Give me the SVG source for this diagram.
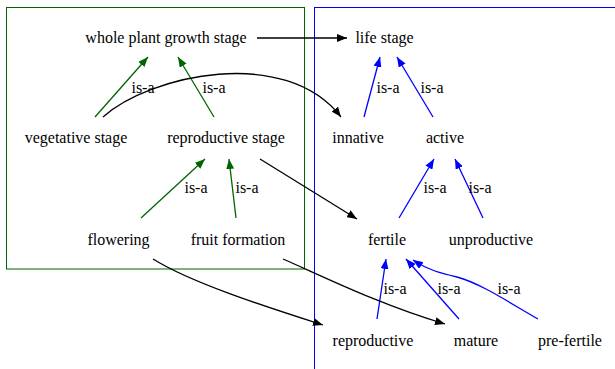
<svg xmlns="http://www.w3.org/2000/svg" width="615" height="369" viewBox="0 0 615 369">
<defs>
<style>
text{font-family:'Liberation Serif','Times New Roman',Times,serif;font-size:16px;fill:#000;text-anchor:middle}
.g{stroke:#006400;fill:none;stroke-width:1.3}
.b{stroke:#0000ff;fill:none;stroke-width:1.3}
.k{stroke:#000;fill:none;stroke-width:1.3}
</style>
<marker id="ag" markerWidth="10" markerHeight="8" refX="10" refY="4" orient="auto" markerUnits="userSpaceOnUse"><path d="M0,0 L10,4 L0,8 z" fill="#006400"/></marker>
<marker id="ab" markerWidth="10" markerHeight="8" refX="10" refY="4" orient="auto" markerUnits="userSpaceOnUse"><path d="M0,0 L10,4 L0,8 z" fill="#0000ff"/></marker>
<marker id="ak" markerWidth="10" markerHeight="8" refX="10" refY="4" orient="auto" markerUnits="userSpaceOnUse"><path d="M0,0 L10,4 L0,8 z" fill="#000"/></marker>
</defs>
<rect width="615" height="369" fill="#fff"/>
<g id="cluster-plant"><rect x="6.5" y="7.5" width="298" height="261.5" fill="none" stroke="#006400" stroke-width="1"/></g>
<g id="cluster-life"><rect x="314.5" y="7.5" width="320" height="380" fill="none" stroke="#0000ff" stroke-width="1"/></g>
<g id="connectors">
<path class="g" d="M95,117 L148,57" marker-end="url(#ag)"/>
<path class="g" d="M214,117 L178,57" marker-end="url(#ag)"/>
<path class="g" d="M141,218 L205,159" marker-end="url(#ag)"/>
<path class="g" d="M236,218 L229,159" marker-end="url(#ag)"/>
<path class="b" d="M364,117 L380,57" marker-end="url(#ab)"/>
<path class="b" d="M433,117 L397,57" marker-end="url(#ab)"/>
<path class="b" d="M399,218 L434,159" marker-end="url(#ab)"/>
<path class="b" d="M483,218 L455,159" marker-end="url(#ab)"/>
<path class="b" d="M377,319 L386,259" marker-end="url(#ab)"/>
<path class="b" d="M459,319 L406,259" marker-end="url(#ab)"/>
<path class="b" d="M538,319 C510,303 480,283 457,277 C440,273 428,270 413,260" marker-end="url(#ab)"/>
<path class="k" d="M257,38 L347,38" marker-end="url(#ak)"/>
<path class="k" d="M103,117 C150,75 285,45 341,117" marker-end="url(#ak)"/>
<path class="k" d="M260,159 L357,219" marker-end="url(#ak)"/>
<path class="k" d="M153,259 C190,282 260,305 323,325" marker-end="url(#ak)"/>
<path class="k" d="M283,259 C320,275 380,305 445,324" marker-end="url(#ak)"/>
</g>
<g id="labels">
<text x="143" y="93">is-a</text>
<text x="214" y="93">is-a</text>
<text x="388" y="93">is-a</text>
<text x="432" y="93">is-a</text>
<text x="196" y="193">is-a</text>
<text x="247" y="193">is-a</text>
<text x="435" y="193">is-a</text>
<text x="480" y="193">is-a</text>
<text x="395" y="294">is-a</text>
<text x="449" y="294">is-a</text>
<text x="509" y="294">is-a</text>
</g>
<g id="n-whole"><text x="166" y="43">whole plant growth stage</text></g>
<g id="n-life"><text x="384.5" y="43">life stage</text></g>
<g id="n-veg"><text x="76" y="143">vegetative stage</text></g>
<g id="n-repstage"><text x="226" y="143">reproductive stage</text></g>
<g id="n-innative"><text x="358" y="143">innative</text></g>
<g id="n-active"><text x="445" y="143">active</text></g>
<g id="n-flowering"><text x="118.5" y="245">flowering</text></g>
<g id="n-fruit"><text x="238" y="245">fruit formation</text></g>
<g id="n-fertile"><text x="387" y="245">fertile</text></g>
<g id="n-unproductive"><text x="491" y="245">unproductive</text></g>
<g id="n-reproductive"><text x="373" y="346">reproductive</text></g>
<g id="n-mature"><text x="476" y="346">mature</text></g>
<g id="n-prefertile"><text x="570" y="346">pre-fertile</text></g>
</svg>
